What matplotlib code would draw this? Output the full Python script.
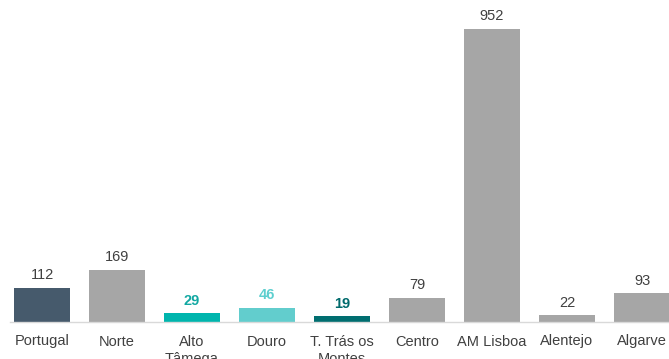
import matplotlib
matplotlib.use("Agg")
import matplotlib.pyplot as plt

plt.rcParams['font.family'] = ['Liberation Sans', 'DejaVu Sans']

categories = ["Portugal", "Norte", "Alto\nTâmega", "Douro", "T. Trás os\nMontes",
              "Centro", "AM Lisboa", "Alentejo", "Algarve"]
values = [112, 169, 29, 46, 19, 79, 952, 22, 93]
bar_colors = ["#465A6C", "#A6A6A6", "#00B5AD", "#62CDCD", "#006E70",
              "#A6A6A6", "#A6A6A6", "#A6A6A6", "#A6A6A6"]
label_colors = ["#404040", "#404040", "#12A8A2", "#5ECFCF", "#006A6C",
                "#404040", "#404040", "#404040", "#404040"]
label_bold = [False, False, True, True, True, False, False, False, False]

fig = plt.figure(figsize=(6.69, 3.59), dpi=100)
ax = fig.add_axes([10 / 669, 37 / 359, 1 - 10 / 669, 307.8 / 359])

x = list(range(len(categories)))
bars = ax.bar(x, values, width=0.75, color=bar_colors)

for xi, v, c, b in zip(x, values, label_colors, label_bold):
    ax.annotate(str(v), (xi, v), xytext=(0, 4), textcoords="offset points",
                ha="center", va="bottom", fontsize=10.5, color=c,
                fontweight="bold" if b else "normal", clip_on=False)

ax.set_xlim(-0.427, 8.36)
ax.set_ylim(0, 1000)
ax.set_xticks(x)
ax.set_xticklabels(categories, fontsize=10.5, color="#404040", linespacing=1.3)
ax.tick_params(axis="x", length=0, pad=9)
ax.set_yticks([])
for s in ["top", "right", "left"]:
    ax.spines[s].set_visible(False)
ax.spines["bottom"].set_color("#D9D9D9")
ax.spines["bottom"].set_linewidth(1.0)

fig.savefig("out.png", dpi=100)
